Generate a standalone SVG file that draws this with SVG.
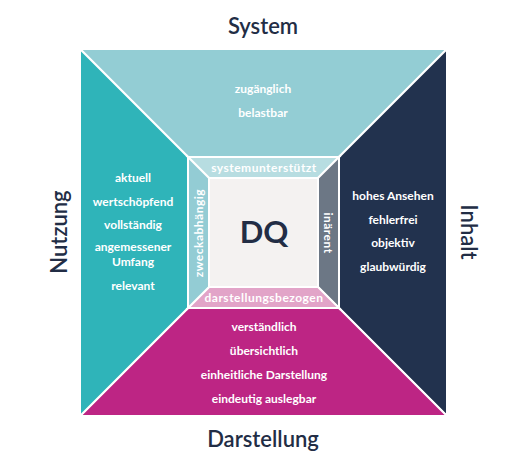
<svg xmlns="http://www.w3.org/2000/svg" width="524" height="474" viewBox="0 0 524 474">
<style>
.sec{stroke:#ffffff;stroke-width:2;stroke-linejoin:miter}
.t{font-family:Lato,"Open Sans","Liberation Sans",sans-serif;font-weight:700;fill:#ffffff;text-anchor:middle}
.s{font-size:12px}
.b{font-size:12px;letter-spacing:0.5px}
.h{font-family:Lato,"Open Sans","Liberation Sans",sans-serif;font-weight:600;font-size:22px;fill:#222d45;text-anchor:middle}
</style>
<rect width="524" height="474" fill="#ffffff"/>
<g id="system">
<polygon class="sec" points="80,49 447,49 339,157 188,157" fill="#93cdd4"/>
<text class="t s" x="263" y="93">zugänglich</text>
<text class="t s" x="263" y="117">belastbar</text>
</g>
<g id="inhalt">
<polygon class="sec" points="447,49 447,416 339,308 339,157" fill="#22324e"/>
<text class="t s" x="393" y="200">hohes Ansehen</text>
<text class="t s" x="393" y="224">fehlerfrei</text>
<text class="t s" x="393" y="247">objektiv</text>
<text class="t s" x="393" y="271">glaubwürdig</text>
</g>
<g id="darstellung">
<polygon class="sec" points="447,416 80,416 188,308 339,308" fill="#bd2584"/>
<text class="t s" x="264" y="331">verständlich</text>
<text class="t s" x="264" y="355">übersichtlich</text>
<text class="t s" x="264" y="379">einheitliche Darstellung</text>
<text class="t s" x="264" y="403">eindeutig auslegbar</text>
</g>
<g id="nutzung">
<polygon class="sec" points="80,416 80,49 188,157 188,308" fill="#2fb4b9"/>
<text class="t s" x="133" y="182">aktuell</text>
<text class="t s" x="133" y="206">wertschöpfend</text>
<text class="t s" x="133" y="229">vollständig</text>
<text class="t s" x="133" y="250.5">angemessener</text>
<text class="t s" x="133" y="265.5">Umfang</text>
<text class="t s" x="133" y="290">relevant</text>
</g>
<g id="systemunterstuetzt">
<polygon class="sec" points="188,157 339,157 318,178 209,178" fill="#b7dde1"/>
<text class="t b" x="264" y="172">systemunterstützt</text>
</g>
<g id="inaerent">
<polygon class="sec" points="339,157 339,308 318,287 318,178" fill="#6c7785"/>
<text class="t b" transform="translate(328,233) rotate(90)" dominant-baseline="central">inärent</text>
</g>
<g id="darstellungsbezogen">
<polygon class="sec" points="339,308 188,308 209,287 318,287" fill="#e2a4c8"/>
<text class="t b" x="264" y="302">darstellungsbezogen</text>
</g>
<g id="zweckabhaengig">
<polygon class="sec" points="188,308 188,157 209,178 209,287" fill="#93ccd4"/>
<text class="t b" transform="translate(198.5,233) rotate(-90)" dominant-baseline="central">zweckabhängig</text>
</g>
<g id="dq">
<rect class="sec" x="209" y="178" width="109" height="109" fill="#f4f2f1"/>
<text x="264" y="243" font-family="Lato,'Open Sans','Liberation Sans',sans-serif" font-weight="700" font-size="31" fill="#222d45" text-anchor="middle">DQ</text>
</g>
<g id="labels">
<text class="h" x="263" y="34">System</text>
<text class="h" x="263" y="447">Darstellung</text>
<text class="h" transform="translate(58,232) rotate(-90)" dominant-baseline="central">Nutzung</text>
<text class="h" transform="translate(469,232) rotate(90)" dominant-baseline="central">Inhalt</text>
</g>
<g id="connectors"></g>
</svg>
